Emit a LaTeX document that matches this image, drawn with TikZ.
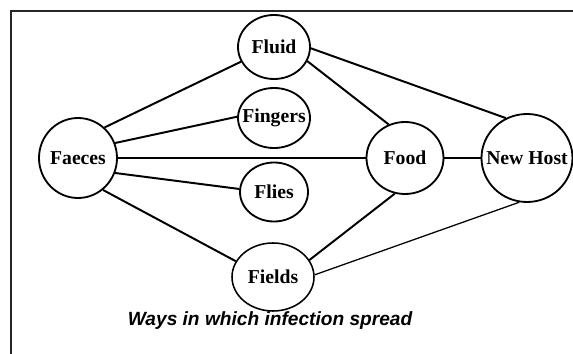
\documentclass[tikz,border=0pt]{standalone}
\usepackage{fontspec}
\setmainfont{Liberation Serif}
\setsansfont{Liberation Sans}
\usetikzlibrary{shapes.geometric}
\tikzset{
    spot/.style = {ellipse, draw=black, line width=1.3pt, inner sep=0pt},
    oval/.style 2 args = {minimum width=#1*0.025cm, minimum height=#2*0.025cm},
    every label/.style = {font=\fontsize{14}{16}\selectfont\bfseries, inner sep=0pt},
    link/.style = {line width=1.4pt},
    thinlink/.style = {line width=0.9pt},
    frameline/.style = {line width=0.9pt, draw=black!85}
}

\begin{document}
\begin{tikzpicture}[x=0.025cm, y=-0.025cm]
    \useasboundingbox (0,0) rectangle (573,354);
    \draw [frameline] (11,354) -- (11,11) -- (573,11);

    % places
    \node [spot, oval={72}{64}, label=center:Fluid]    (fluid)   at (274,47)  {};
    \node [spot, oval={72}{60}, label=center:Fingers]  (fingers) at (274,118) {};
    \node [spot, oval={78}{80}, label=center:Faeces]   (faeces)  at (78,158)  {};
    \node [spot, oval={68}{59}, label=center:Flies]    (flies)   at (274,192) {};
    \node [spot, oval={77}{72}, label=center:Food]     (food)    at (405,158) {};
    \node [spot, oval={91}{88}, label=center:New Host] (host)    at (527,158) {};
    \node [spot, oval={82}{68}, line width=1.1pt, label=center:Fields] (fields) at (273,277) {};

    % routes
    \draw [link] (faeces.49)  -- (fluid.204);
    \draw [link] (faeces.22)  -- (fingers.178);
    \draw [link] (faeces)     -- (food);
    \draw [link] (faeces.-22) -- (flies.175);
    \draw [link] (faeces.-52) -- (fields.157);
    \draw [link] (fluid.-23)  -- (food.116);
    \draw [link] (fluid.-2)   -- (host.118);
    \draw [link] (food)       -- (host);
    \draw [link] (food.-106)  -- (fields.25);
    \draw [thinlink] (fields.3) -- (host.-100);

    \node [font=\fontsize{13.6}{16}\selectfont\sffamily\bfseries\itshape] (caption) at (270,321)
        {Ways in which infection spread};
\end{tikzpicture}
\end{document}
